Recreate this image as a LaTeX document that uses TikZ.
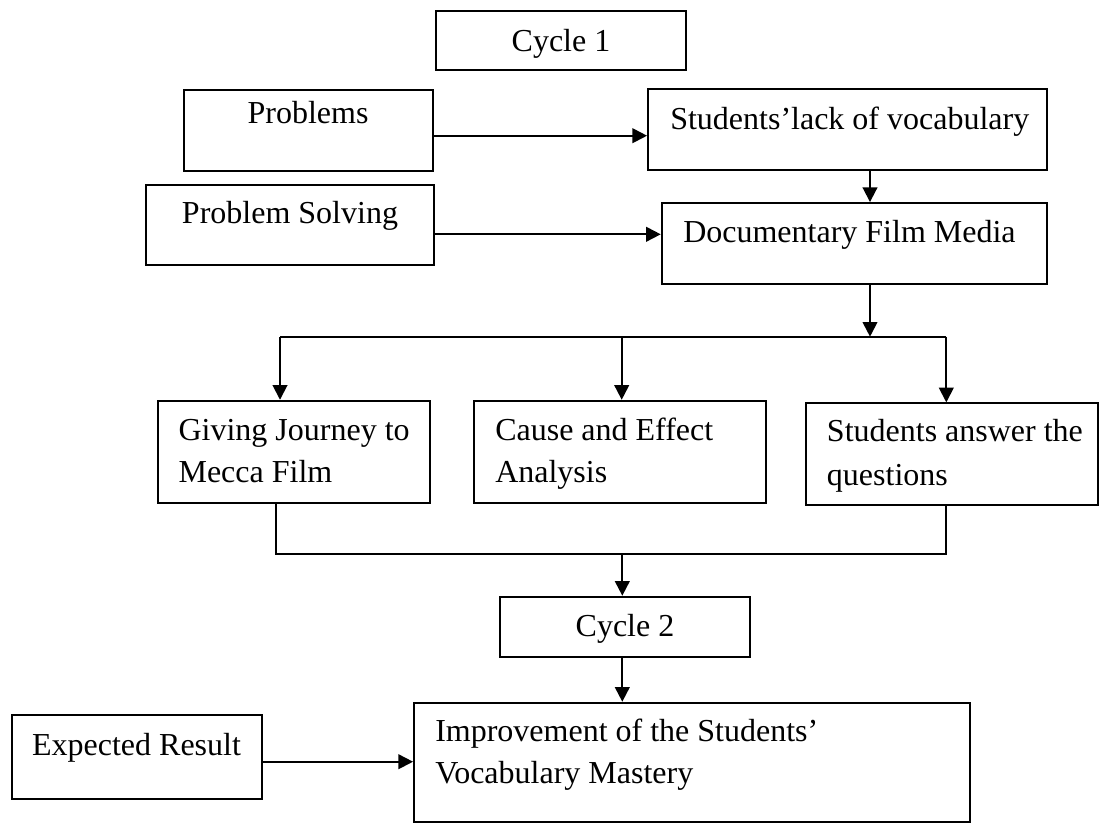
\documentclass[tikz,border=0pt]{standalone}
\usepackage{fontspec}
\setmainfont{Liberation Serif}
\usetikzlibrary{arrows.meta,fit}
\begin{document}
\begin{tikzpicture}[x=0.75pt,y=-0.75pt,
  box/.style={draw, line width=1.4pt, inner sep=0pt},
  txt/.style={inner sep=0pt, font=\fontsize{24}{32}\selectfont},
  arr/.style={-{Triangle[length=11pt,width=11pt]}, line width=1.4pt},
  conn/.style={line width=1.4pt}]
\useasboundingbox (0,0) rectangle (1102,824);
% boxes
\node[box, fit={(436,11) (686,70.3)}] (c1) {};
\node[box, fit={(183.6,90) (433,171)}] (prob) {};
\node[box, fit={(648,88.7) (1047,170.3)}] (slack) {};
\node[box, fit={(146,185) (434,265)}] (ps) {};
\node[box, fit={(661.7,203) (1047,284.3)}] (doc) {};
\node[box, fit={(157.7,400.7) (430,502.7)}] (giv) {};
\node[box, fit={(474,400.7) (766,502.7)}] (cae) {};
\node[box, fit={(806,403.3) (1098,505)}] (sans) {};
\node[box, fit={(500,596.7) (750,656.7)}] (cyc2) {};
\node[box, fit={(11.7,715.3) (262.3,799.3)}] (exp) {};
\node[box, fit={(414,702.7) (970,822)}] (imp) {};
% texts
\node[txt, anchor=base] (t1) at (561,52) {Cycle 1};
\node[txt, anchor=base] (t2) at (308,123) {Problems};
\node[txt, anchor=base] (t3) at (290,223) {Problem Solving};
\node[txt, anchor=base west] (t4) at (670,129.3) {Students’lack of vocabulary};
\node[txt, anchor=base west] (t5) at (683,242.7) {Documentary Film Media};
\node[txt, anchor=base west] (t6) at (178.3,440) {Giving Journey to};
\node[txt, anchor=base west] (t7) at (178.3,482.7) {Mecca Film};
\node[txt, anchor=base west] (t8) at (495,440) {Cause and Effect};
\node[txt, anchor=base west] (t9) at (495,482.7) {Analysis};
\node[txt, anchor=base west] (t10) at (826.7,441.7) {Students answer the};
\node[txt, anchor=base west] (t11) at (826.7,485) {questions};
\node[txt, anchor=base] (t12) at (625,636.7) {Cycle 2};
\node[txt, anchor=base] (t13) at (136.5,755) {Expected Result};
\node[txt, anchor=base west] (t14) at (435,741.7) {Improvement of the Students’};
\node[txt, anchor=base west] (t15) at (435,783.3) {Vocabulary Mastery};
% guide coordinates
\coordinate (yA) at (0,135.7);
\coordinate (yB) at (0,234.3);
\coordinate (xA) at (870,0);
\coordinate (ySplit) at (0,336.7);
\coordinate (xG) at (280,0);
\coordinate (xC) at (621.7,0);
\coordinate (xS) at (946.3,0);
\coordinate (xGb) at (276,0);
\coordinate (xSb) at (945.7,0);
\coordinate (yM) at (0,554.3);
\coordinate (xC2) at (622.3,0);
\coordinate (yE) at (0,761.7);
% connectors
\draw[arr] (prob.east |- yA) -- (slack.west |- yA);
\draw[arr] (slack.south -| xA) -- (doc.north -| xA);
\draw[arr] (ps.east |- yB) -- (doc.west |- yB);
\draw[arr] (doc.south -| xA) -- (xA |- ySplit);
\draw[conn] (xG |- ySplit) -- (xS |- ySplit);
\draw[arr] (xG |- ySplit) -- (giv.north -| xG);
\draw[arr] (xC |- ySplit) -- (cae.north -| xC);
\draw[arr] (xS |- ySplit) -- (sans.north -| xS);
\draw[conn] (giv.south -| xGb) -- (xGb |- yM) -- (xSb |- yM) -- (sans.south -| xSb);
\draw[arr] (xC2 |- yM) -- (cyc2.north -| xC2);
\draw[arr] (cyc2.south -| xC2) -- (imp.north -| xC2);
\draw[arr] (exp.east |- yE) -- (imp.west |- yE);
\end{tikzpicture}
\end{document}
